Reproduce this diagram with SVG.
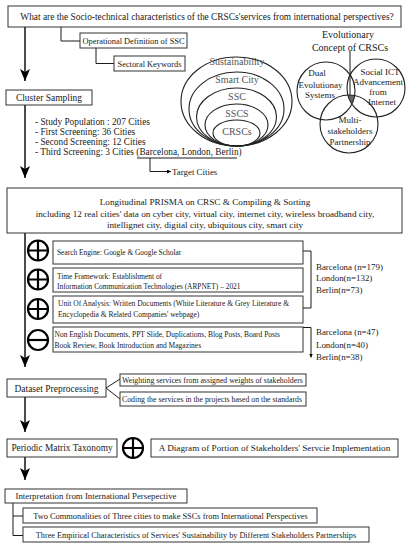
<svg xmlns="http://www.w3.org/2000/svg" width="408" height="550" viewBox="0 0 408 550">
<style>
text{font-family:"Liberation Serif","Times New Roman",serif;fill:#1a1a1a}
.box{fill:#fff;stroke:#333;stroke-width:1}
.ln{fill:none;stroke:#1a1a1a;stroke-width:1}
.main{fill:none;stroke:#000;stroke-width:1.4}
.sym{fill:none;stroke:#000;stroke-width:2.2}
.c{text-anchor:middle}
.cl{fill:none;stroke:#222;stroke-width:1.1}
.ct{fill:#555;font-size:10px;text-anchor:middle}
.vt{font-size:9px;text-anchor:middle}
</style>
<defs>
<marker id="ah" viewBox="0 0 12 10" markerWidth="12" markerHeight="10" refX="12" refY="5" orient="auto" markerUnits="userSpaceOnUse">
<path d="M0,0 L12,5 L0,10 L3,5 z" fill="#000"/>
</marker>
<marker id="sa" viewBox="0 0 6 6" markerWidth="4" markerHeight="4" refX="6" refY="3" orient="auto" markerUnits="userSpaceOnUse">
<path d="M0,0 L6,3 L0,6 z" fill="#000"/>
</marker>
<clipPath id="cpL"><circle cx="326" cy="91" r="29"/></clipPath>
<clipPath id="cpR"><circle cx="376" cy="88" r="29"/></clipPath>
</defs>

<g id="connectors">
<line class="main" x1="25" y1="27" x2="25" y2="81" marker-end="url(#ah)"/>
<polyline class="ln" points="61,27 61,41 80,41"/>
<polyline class="ln" points="96,48 96,63.5 114,63.5"/>
<line class="main" x1="25" y1="105" x2="25" y2="178" marker-end="url(#ah)"/>
<line class="ln" x1="137" y1="158" x2="237" y2="158"/>
<polyline class="ln" points="150,158 150,171.5 171,171.5" marker-end="url(#sa)"/>
<line class="ln" x1="350" y1="51" x2="350" y2="97"/>
<line class="main" x1="25" y1="233" x2="25" y2="367" marker-end="url(#ah)"/>
<polyline class="ln" points="303,251 311,251 311,308 303,308"/>
<polyline class="ln" points="303,327.5 311,327.5 311,357.5" marker-end="url(#sa)"/>
<polyline class="ln" points="120,379 106,388 120,399"/>
<line class="main" x1="25" y1="397" x2="25" y2="432" marker-end="url(#ah)"/>
<line class="main" x1="25" y1="457" x2="25" y2="480" marker-end="url(#ah)"/>
<polyline class="ln" points="13,503 13,535.5 23,535.5"/>
<line class="ln" x1="13" y1="516" x2="23" y2="516"/>
</g>

<g id="question">
<rect class="box" x="8" y="6" width="393" height="21"/>
<text class="c" x="207" y="20" font-size="9.4">What are the Socio-technical characteristics of the CRSCs'services from international perspectives?</text>
</g>
<g id="opdef">
<rect class="box" x="80" y="33" width="107" height="15"/>
<text class="c" x="133.5" y="43.5" font-size="8.4">Operational Definition of SSC</text>
</g>
<g id="keywords">
<rect class="box" x="114" y="56" width="71" height="15"/>
<text class="c" x="149.5" y="66.5" font-size="8.4">Sectoral Keywords</text>
</g>

<g id="nested-circles">
<ellipse class="cl" cx="236.5" cy="101.5" rx="55.5" ry="44.5"/>
<ellipse class="cl" cx="236.5" cy="109" rx="47.5" ry="37"/>
<ellipse class="cl" cx="236.5" cy="117" rx="40" ry="29"/>
<ellipse class="cl" cx="236.5" cy="125" rx="31.5" ry="21"/>
<ellipse class="cl" cx="236.5" cy="133" rx="23.5" ry="13"/>
<text class="ct" x="237" y="65">Sustainability</text>
<text class="ct" x="237" y="82.5">Smart City</text>
<text class="ct" x="237" y="100">SSC</text>
<text class="ct" x="237" y="117">SSCS</text>
<text class="ct" x="237" y="134.5">CRSCs</text>
</g>

<g id="venn">
<text class="c" x="348" y="38" font-size="10">Evolutionary</text>
<text class="c" x="350" y="50.5" font-size="10">Concept of CRSCs</text>
<g clip-path="url(#cpL)"><g clip-path="url(#cpR)"><circle cx="349" cy="124" r="29" fill="#666"/></g></g>
<circle class="cl" cx="326" cy="91" r="29"/>
<circle class="cl" cx="376" cy="88" r="29"/>
<circle class="cl" cx="349" cy="124" r="29"/>
<text class="vt" x="317" y="75.5">Dual</text>
<text class="vt" x="320.5" y="87.5">Evolutionay</text>
<text class="vt" x="320" y="97.5">Systems</text>
<text class="vt" x="380" y="74.5">Social ICT</text>
<text class="vt" x="378" y="85">Advancement</text>
<text class="vt" x="378" y="95">from</text>
<text class="vt" x="382" y="105">Internet</text>
<text class="vt" x="350" y="123">Multi-</text>
<text class="vt" x="350" y="133.5">stakeholders</text>
<text class="vt" x="350" y="145">Partnership</text>
</g>

<g id="cluster">
<rect class="box" x="6" y="90" width="86" height="15"/>
<text class="c" x="49" y="100.8" font-size="9.5">Cluster Sampling</text>
</g>
<g id="screening">
<text x="35" y="125" font-size="9.3">- Study Population : 207 Cities</text>
<text x="35" y="135" font-size="9.3">- First Screening: 36 Cities</text>
<text x="35" y="145" font-size="9.3">- Second Screening: 12 Cities</text>
<text x="35" y="155" font-size="9.3">- Third Screening: 3 Cities (Barcelona, London, Berlin)</text>
</g>
<g id="target">
<text x="172" y="174.5" font-size="8.9">Target Cities</text>
</g>

<g id="prisma">
<rect class="box" x="7" y="188" width="395" height="45"/>
<text class="c" x="205" y="205" font-size="9.2">Longitudinal PRISMA on CRSC &amp; Compiling &amp; Sorting</text>
<text class="c" x="205" y="216.5" font-size="9.2">including 12 real cities' data on cyber city, virtual city, internet city, wireless broadband city,</text>
<text class="c" x="205" y="227.5" font-size="9.2">intellignet city, digital city, ubiquitous city, smart city</text>
</g>

<g id="search">
<circle class="sym" cx="38" cy="250.5" r="10"/>
<path class="sym" d="M28,250.5 H48 M38,240.5 V260.5"/>
<rect class="box" x="53" y="241" width="250" height="23"/>
<text x="57" y="255" font-size="7.4">Search Engine: Google &amp; Google Scholar</text>
</g>
<g id="time">
<circle class="sym" cx="38" cy="279.5" r="10"/>
<path class="sym" d="M28,279.5 H48 M38,269.5 V289.5"/>
<rect class="box" x="53" y="268" width="250" height="24"/>
<text x="57" y="279" font-size="7.4">Time Framework: Establishment of</text>
<text x="57" y="289" font-size="7.4">Information Communication Technologies (ARPNET) – 2021</text>
</g>
<g id="unit">
<circle class="sym" cx="38" cy="309" r="10"/>
<path class="sym" d="M28,309 H48 M38,299 V319"/>
<rect class="box" x="53" y="296" width="250" height="27"/>
<text x="58" y="306" font-size="7.5">Unit Of Analysis: Written Documents (White Literature &amp; Grey Literature &amp;</text>
<text x="58" y="317" font-size="7.5">Encyclopedia &amp; Related Companies' webpage)</text>
</g>
<g id="exclude">
<circle class="sym" cx="38" cy="340" r="10"/>
<path class="sym" d="M28,340 H48"/>
<rect class="box" x="53" y="327" width="250" height="25"/>
<text x="54.5" y="337" font-size="7.5">Non English Documents, PPT Slide, Duplications, Blog Posts, Board Posts</text>
<text x="54.5" y="347.5" font-size="7.5">Book Review, Book Introduction and Magazines</text>
</g>
<g id="counts-included">
<text x="316" y="269.5" font-size="8.9">Barcelona (n=179)</text>
<text x="316" y="281" font-size="8.9">London(n=132)</text>
<text x="316" y="293" font-size="8.9">Berlin(n=73)</text>
</g>
<g id="counts-excluded">
<text x="316" y="335" font-size="8.9">Barcelona (n=47)</text>
<text x="316" y="347.5" font-size="8.9">London(n=40)</text>
<text x="316" y="359.5" font-size="8.9">Berlin(n=38)</text>
</g>

<g id="dataset">
<rect class="box" x="7" y="379" width="99" height="18"/>
<text class="c" x="56.5" y="391.5" font-size="9.5">Dataset Preprocessing</text>
</g>
<g id="weighting">
<rect class="box" x="120" y="374" width="186" height="12"/>
<text x="122" y="382.8" font-size="7.8">Weighting services from assigned weights of stakeholders</text>
</g>
<g id="coding">
<rect class="box" x="120" y="392" width="186" height="14"/>
<text x="122" y="401.8" font-size="7.8">Coding the services in the projects based on the standards</text>
</g>

<g id="periodic">
<rect class="box" x="7" y="439" width="110" height="18"/>
<text class="c" x="62" y="451.3" font-size="9.4">Periodic Matrix Taxonomy</text>
</g>
<g id="plus-join">
<circle class="sym" cx="133" cy="448" r="10"/>
<path class="sym" d="M123,448 H143 M133,438 V458"/>
</g>
<g id="diagram">
<rect class="box" x="151" y="439" width="247" height="18"/>
<text class="c" x="274.5" y="451.3" font-size="9.2">A Diagram of Portion of Stakeholders' Servcie Implementation</text>
</g>

<g id="interpretation">
<rect class="box" x="5" y="489" width="182" height="14"/>
<text class="c" x="96" y="499.3" font-size="8.8">Interpretation from International Persepective</text>
</g>
<g id="commonalities">
<rect class="box" x="23" y="508" width="294" height="15"/>
<text class="c" x="170.5" y="518.8" font-size="8.4">Two Commonalities of Three cities to make SSCs from International Perspectives</text>
</g>
<g id="empirical">
<rect class="box" x="23" y="527" width="346" height="15"/>
<text class="c" x="196" y="537.8" font-size="8.2">Three Empirical Characteristics of Services' Sustainability by Different Stakeholders Partnerships</text>
</g>
</svg>
